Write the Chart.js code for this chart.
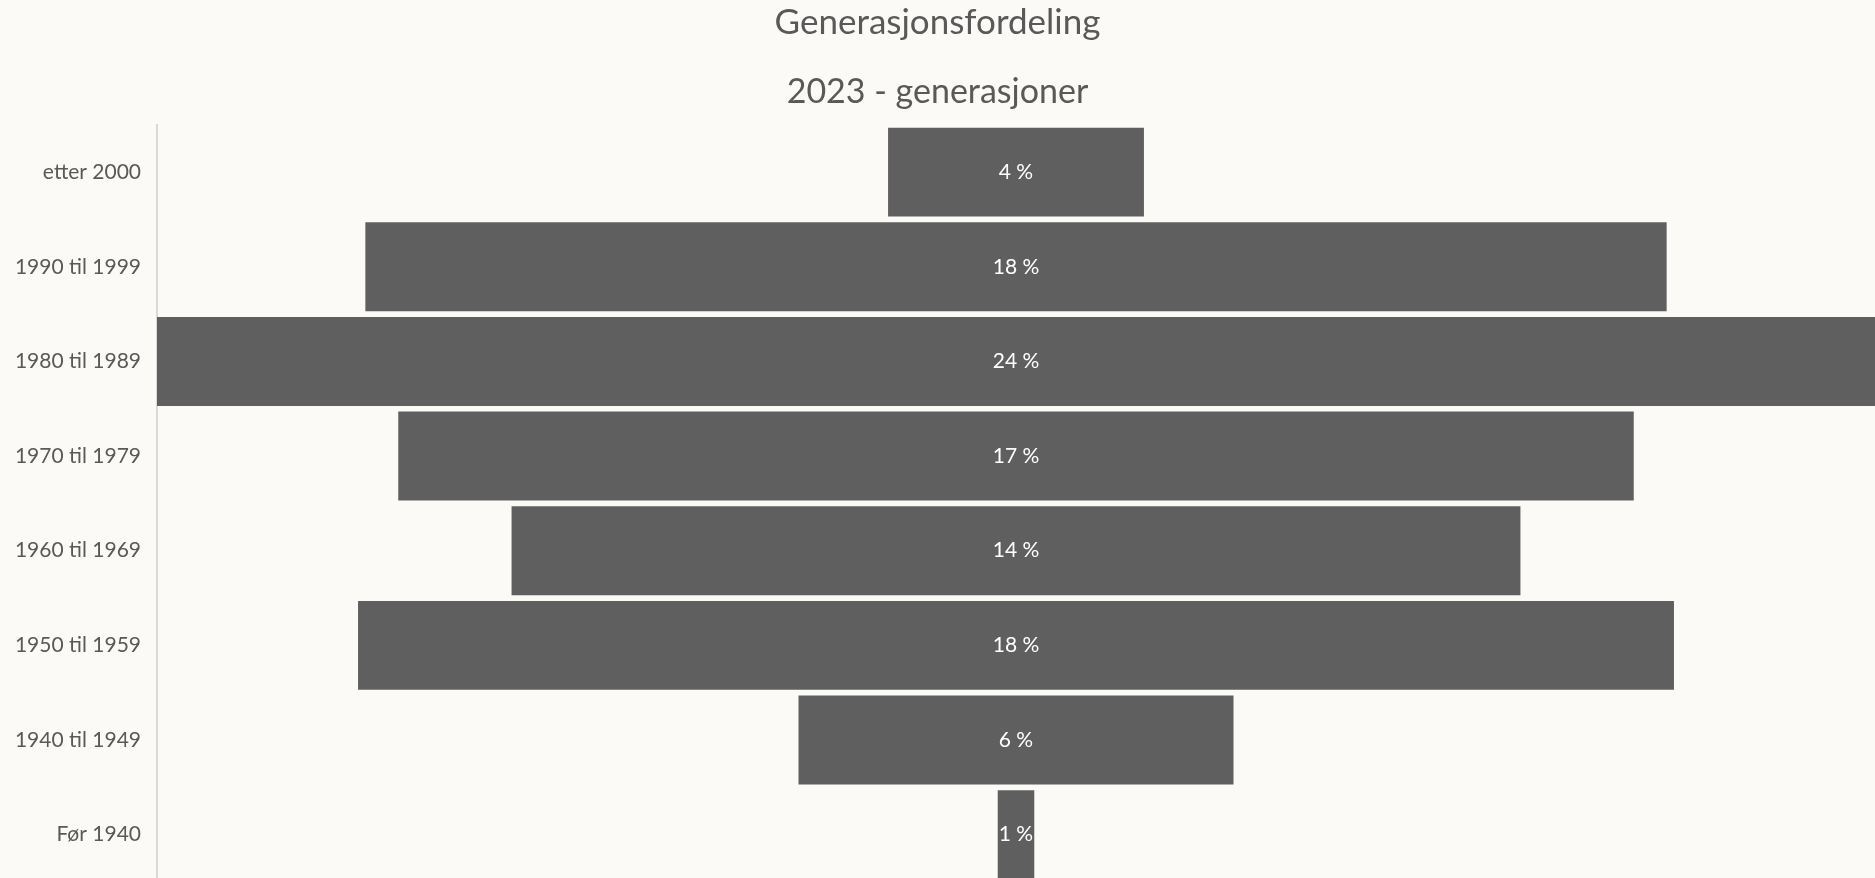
<!DOCTYPE html>
<html>
<head>
<meta charset="utf-8">
<script src="https://cdn.jsdelivr.net/npm/chart.js@4"></script>
<style>
  html, body { margin: 0; padding: 0; background: #fbfaf6; overflow: hidden; }
  canvas { display: block; }
</style>
</head>
<body>
<canvas id="c" width="1875" height="882"></canvas>
<script>
const titleText = "Generasjonsfordeling";
const subtitleText = "2023 - generasjoner";
const categories = ["etter 2000", "1990 til 1999", "1980 til 1989", "1970 til 1979", "1960 til 1969", "1950 til 1959", "1940 til 1949", "Før 1940"];
const shares = [3.5, 17.8, 23.5, 16.9, 13.8, 18.0, 5.95, 0.5];

const FONT = "Lato";
const TEXT = "#595959";
const BAR = "#5f5f5f";
const maxShare = Math.max(...shares);

const barLabels = {
  id: "barLabels",
  afterDatasetsDraw(chart) {
    const ctx = chart.ctx;
    const meta = chart.getDatasetMeta(0);
    ctx.save();
    ctx.fillStyle = "#ffffff";
    ctx.font = "21px " + FONT;
    ctx.textAlign = "center";
    ctx.textBaseline = "middle";
    meta.data.forEach((el, i) => {
      const p = el.getProps(["x", "y", "base"], true);
      const cx = (p.x + p.base) / 2;
      ctx.fillText(Math.round(shares[i]) + " %", cx, p.y);
    });
    ctx.restore();
  }
};

new Chart(document.getElementById("c"), {
  type: "bar",
  data: {
    labels: categories,
    datasets: [{
      data: shares.map(v => [-v / 2, v / 2]),
      backgroundColor: BAR,
      borderWidth: 0,
      barPercentage: 0.94,
      categoryPercentage: 1.0
    }]
  },
  options: {
    indexAxis: "y",
    responsive: false,
    animation: false,
    devicePixelRatio: 1,
    layout: { padding: { top: 0, right: 0, bottom: 0, left: 0 } },
    plugins: {
      legend: { display: false },
      tooltip: { enabled: false },
      title: {
        display: true,
        text: titleText,
        color: TEXT,
        font: { family: FONT, size: 35, weight: "normal" },
        padding: { top: 2, bottom: 28 }
      },
      subtitle: {
        display: true,
        text: subtitleText,
        color: TEXT,
        font: { family: FONT, size: 34, weight: "normal" },
        padding: { top: 0, bottom: 12 }
      }
    },
    scales: {
      x: {
        type: "linear",
        display: false,
        min: -maxShare / 2,
        max: maxShare / 2
      },
      y: {
        grid: { display: false, drawTicks: false },
        border: { display: true, color: "#d9d9d9", width: 2 },
        ticks: {
          color: TEXT,
          font: { family: FONT, size: 21 },
          padding: 16
        },
        afterFit(scale) {
          scale.width = 157;
          scale.paddingTop = 0;
          scale.paddingBottom = 0;
        }
      }
    }
  },
  plugins: [barLabels]
});
</script>
</body>
</html>
